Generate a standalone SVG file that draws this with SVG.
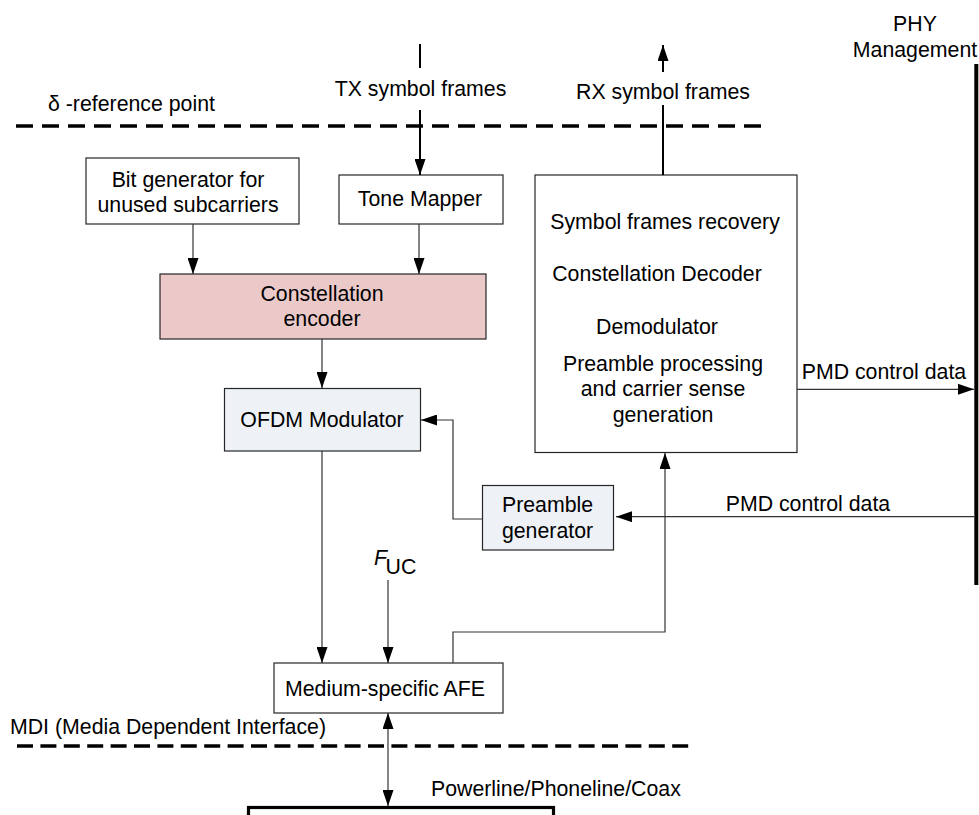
<svg xmlns="http://www.w3.org/2000/svg" width="979" height="815" viewBox="0 0 979 815">
  <style>
    text { font-family: "Liberation Sans", Arial, sans-serif; font-size: 21.3px; fill: #000; }
    .mid { text-anchor: middle; }
    .box { stroke: #262626; stroke-width: 1.2; fill: #fff; }
    .pink { fill: #ecc9c9; }
    .blue { fill: #eef1f6; }
    .wire { stroke: #333; stroke-width: 1.2; fill: none; }
    .bold { stroke: #000; stroke-width: 2; fill: none; }
    .refline { stroke: #000; stroke-width: 3.5; fill: none; }
  </style>
  <defs>
    <marker id="arrow" markerUnits="userSpaceOnUse" markerWidth="16" markerHeight="11" refX="16" refY="5.5" orient="auto-start-reverse">
      <path d="M0,0 L16,5.5 L0,11 z" fill="#000"/>
    </marker>
  </defs>

  <!-- reference planes -->
  <g id="delta-reference">
    <line class="refline" x1="16" y1="126" x2="765" y2="126" stroke-dasharray="17 9"/>
    <text x="48" y="111">δ -reference point</text>
  </g>
  <g id="mdi-reference">
    <line class="refline" x1="17" y1="746" x2="689" y2="746" stroke-dasharray="16 7.4"/>
    <text x="10" y="734">MDI (Media Dependent Interface)</text>
  </g>

  <!-- PHY management bus -->
  <g id="phy-management">
    <text class="mid" x="915" y="30.5">PHY</text>
    <text class="mid" x="915" y="57">Management</text>
    <line x1="976.3" y1="64" x2="976.3" y2="585" stroke="#000" stroke-width="4"/>
  </g>

  <!-- nodes -->
  <g id="bit-generator">
    <rect class="box" x="86" y="158" width="213" height="66"/>
    <text class="mid" x="188" y="186.5">Bit generator for</text>
    <text class="mid" x="188" y="211.5">unused subcarriers</text>
  </g>
  <g id="tone-mapper">
    <rect class="box" x="339" y="175" width="164" height="49"/>
    <text class="mid" x="420" y="205.5">Tone Mapper</text>
  </g>
  <g id="constellation-encoder">
    <rect class="box pink" x="160" y="274" width="326" height="65"/>
    <text class="mid" x="322" y="300.5">Constellation</text>
    <text class="mid" x="322" y="326">encoder</text>
  </g>
  <g id="ofdm-modulator">
    <rect class="box blue" x="224.5" y="388.5" width="196" height="62.5"/>
    <text class="mid" x="322" y="426.7">OFDM Modulator</text>
  </g>
  <g id="preamble-generator">
    <rect class="box blue" x="482.5" y="485.5" width="131" height="64.5"/>
    <text class="mid" x="547.5" y="512">Preamble</text>
    <text class="mid" x="547.5" y="538">generator</text>
  </g>
  <g id="receiver">
    <rect class="box" x="535" y="175" width="262" height="277.5"/>
    <text class="mid" x="665" y="229">Symbol frames recovery</text>
    <text class="mid" x="657" y="281">Constellation Decoder</text>
    <text class="mid" x="657" y="333.5">Demodulator</text>
    <text class="mid" x="663" y="370.5">Preamble processing</text>
    <text class="mid" x="663" y="396">and carrier sense</text>
    <text class="mid" x="663" y="421.7">generation</text>
  </g>
  <g id="afe">
    <rect class="box" x="274" y="663" width="229" height="50"/>
    <text x="285" y="695.5">Medium-specific AFE</text>
  </g>
  <g id="medium">
    <rect x="248.5" y="807.5" width="305" height="20" fill="#fff" stroke="#000" stroke-width="3.2"/>
    <text x="431" y="796">Powerline/Phoneline/Coax</text>
  </g>
  <g id="fuc-label">
    <text x="374" y="565" font-style="italic">F</text>
    <text x="385.5" y="574" font-size="13.5">UC</text>
  </g>

  <!-- connectors -->
  <g id="connectors">
    <!-- TX symbol frames -->
    <line class="bold" x1="420" y1="44" x2="420" y2="68"/>
    <text class="mid" x="420.5" y="96">TX symbol frames</text>
    <line class="bold" x1="420" y1="110" x2="420" y2="175" marker-end="url(#arrow)"/>
    <!-- RX symbol frames -->
    <line class="bold" x1="663" y1="175" x2="663" y2="105"/>
    <text class="mid" x="663" y="99">RX symbol frames</text>
    <line class="bold" x1="663" y1="72" x2="663" y2="45" marker-end="url(#arrow)"/>

    <line class="wire" x1="193" y1="224" x2="193" y2="274" marker-end="url(#arrow)"/>
    <line class="wire" x1="419" y1="224" x2="419" y2="274" marker-end="url(#arrow)"/>
    <line class="wire" x1="322" y1="339" x2="322" y2="388" marker-end="url(#arrow)"/>
    <polyline class="wire" points="482,519 453,519 453,420 421,420" marker-end="url(#arrow)"/>
    <line class="wire" x1="322" y1="451" x2="322" y2="663" marker-end="url(#arrow)"/>
    <line class="wire" x1="388" y1="580" x2="388" y2="663" marker-end="url(#arrow)"/>
    <polyline class="wire" points="453,663 453,632 665,632 665,453" marker-end="url(#arrow)"/>
    <line class="wire" x1="797" y1="389.3" x2="974" y2="389.3" marker-end="url(#arrow)"/>
    <text x="801.7" y="378.5">PMD control data</text>
    <line class="wire" x1="974" y1="516.7" x2="616" y2="516.7" marker-end="url(#arrow)"/>
    <text x="725.7" y="510.5">PMD control data</text>
    <line class="wire" x1="388" y1="713" x2="388" y2="806" marker-start="url(#arrow)" marker-end="url(#arrow)"/>
  </g>
</svg>
